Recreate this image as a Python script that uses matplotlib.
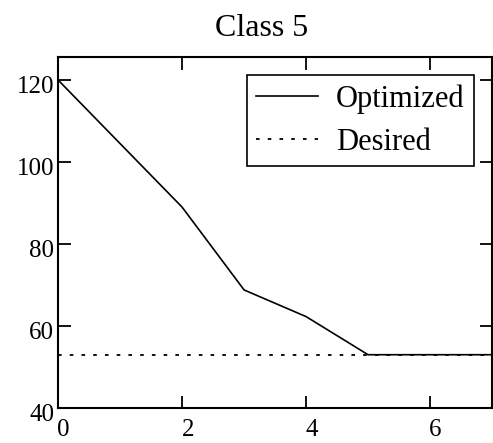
import matplotlib
matplotlib.use("Agg")
import matplotlib.pyplot as plt
import matplotlib.transforms as mtransforms

# data
x = [0, 1, 2, 3, 4, 5, 6, 7]
optimized = [120, 104.5, 89, 68.8, 62.3, 53, 53, 53]
desired_x = [0, 7]
desired = [53, 53]

plt.rcParams['font.family'] = ['Liberation Serif', 'DejaVu Serif']

fig = plt.figure(figsize=(4.93, 4.43), dpi=100)
ax = fig.add_axes([0.118, 0.079, 0.880, 0.792])

ax.plot(desired_x, desired, color='black', linestyle=(0, (2, 4.5)), linewidth=1.3, label='Desired')
ax.plot(x, optimized, color='black', linewidth=1.2, label='Optimized')

ax.set_xlim(0, 7)
ax.set_ylim(40, 125.6)
ax.set_xticks([0, 2, 4, 6])
ax.set_yticks([40, 60, 80, 100, 120])
ax.tick_params(direction='in', length=9, width=1.3, labelsize=18,
               top=True, right=True, pad=3)
ax.tick_params(axis='x', pad=8)
for s in ax.spines.values():
    s.set_linewidth(1.5)

# labels sit a little right / below their ticks in the original
dx = mtransforms.ScaledTranslation(4 / 72, 0, fig.dpi_scale_trans)
dy = mtransforms.ScaledTranslation(0, -3 / 72, fig.dpi_scale_trans)
for t in ax.get_xticklabels():
    t.set_transform(t.get_transform() + dx)
for t in ax.get_yticklabels():
    t.set_transform(t.get_transform() + dy)

ax.set_title('Class 5', fontsize=23, pad=15, x=0.469)

h, l = ax.get_legend_handles_labels()
leg = ax.legend(h[::-1], l[::-1], loc='upper right', fontsize=22, fancybox=False,
                edgecolor='black', framealpha=1, borderaxespad=0.6,
                handlelength=2.0, handletextpad=0.6, labelspacing=0.45,
                borderpad=0.3)
leg.get_frame().set_linewidth(1.2)

fig.savefig('out.png', dpi=100)
